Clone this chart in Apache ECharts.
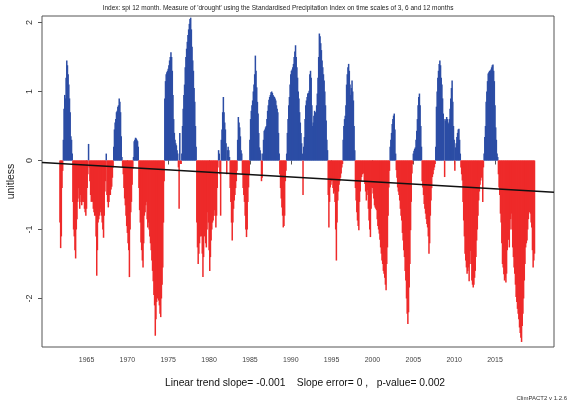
<!DOCTYPE html>
<html><head><meta charset="utf-8">
<script src="https://cdn.jsdelivr.net/npm/echarts@6/dist/echarts.min.js"></script>
<style>html,body{margin:0;padding:0;background:#fff}#c{width:576px;height:400px}</style>
</head><body><div id="c"></div>
<script>
// ---- data (monthly SPI-12, starting Oct 1961) ----
const startYear = 1961, startMonth = 10;
const spi1960s = [
 -0.9,-1.27,-1.1,
 -0.4,-0.15,0.3,0.75,0.95,0.9,1.2,1.45,1.38,1.25,1.1,0.9,
 0.7,0.35,0.3,0.1,-0.6,-1.0,-1.1,-1.3,-1.42,-1.0,-0.85,-0.6,
 -0.4,-0.55,-0.7,-0.5,-0.6,-0.65,-0.6,-0.55,-0.6,-0.7,-0.75,-0.8,
 -0.7,-0.4,-0.2,0.24,-0.1,-0.3,-0.5,-0.6,-0.55,-0.6,-0.7,-0.75,
 -0.8,-0.8,-1.1,-1.67,-1.3,-0.9,-0.85,-0.8,-0.75,-0.7,-0.8,-0.9,
 -1.0,-1.12,-0.8,-0.45,-0.3,0.1,-0.5,-0.6,-0.68,-0.6,-0.5,-0.5,
 -0.42,-0.38,-0.25,-0.1,0.2,0.45,0.55,0.6,0.7,0.72,0.78,0.8,
 0.9,0.85,0.7,0.35,0.05,-0.1,-0.2,-0.4,-0.55,-0.65,-0.8,-0.95
];
const spi1970s = [
 -1.05,-1.2,-1.3,-1.69,-1.0,-0.75,-0.6,-0.35,-0.12,0.05,0.28,0.3,
 0.33,0.32,0.3,0.28,0.2,-0.4,-0.72,-0.9,-1.19,-1.3,-1.45,-1.55,
 -1.2,-0.8,-0.75,-0.65,-0.6,-0.85,-0.97,-0.9,-1.0,-1.1,-1.2,-1.3,
 -1.45,-1.6,-1.75,-1.95,-2.1,-2.54,-2.3,-2.05,-2.0,-1.95,-2.03,-2.1,
 -2.22,-2.27,-2.0,-1.8,-1.55,-0.9,-0.3,0.9,1.15,1.25,1.28,1.3,
 1.33,1.38,1.45,1.5,1.57,1.5,1.3,0.95,0.6,0.4,0.3,0.25,
 0.22,0.15,0.1,-0.1,-0.7,0.4,-0.05,-0.05,0.1,0.5,0.75,0.95,
 1.1,1.35,1.5,1.62,1.72,1.82,1.9,1.98,2.05,2.07,1.9,1.65,
 1.45,1.3,1.05,0.85,0.5,0.2,-0.9,-1.26,-1.5,-1.35,-1.2,-1.1,
 -1.0,-1.1,-1.35,-1.69,-1.4,-1.1,-1.05,-1.2,-1.26,-1.0,-0.75,-0.9
];
const spi1980s = [
 -1.3,-1.6,-1.4,-1.16,-1.0,-0.9,-0.87,-0.8,-0.72,-0.8,-0.97,-0.8,
 -0.4,-0.1,0.15,0.1,-0.2,-0.8,0.3,0.45,0.7,0.92,0.7,0.55,
 0.45,0.25,-0.2,0.15,0.2,0.15,0.05,-0.4,-0.6,-0.9,-1.16,-0.9,
 -0.7,-0.58,-0.5,-0.4,-0.3,-0.15,0.3,0.63,0.55,0.48,0.35,0.15,
 0.1,-0.2,-0.4,-0.5,-0.6,-0.8,-1.0,-1.11,-1.0,-0.6,-0.39,-0.2,
 0.3,0.6,0.72,0.8,0.87,1.0,1.1,1.25,1.52,1.3,1.06,0.85,
 0.68,0.4,0.19,0.15,0.1,-0.3,-0.25,0.1,0.3,0.43,0.45,0.48,
 0.5,0.6,0.72,0.8,0.88,0.92,0.95,0.99,1.0,0.98,0.95,0.93,
 0.92,0.9,0.87,0.8,0.75,0.7,0.4,0.1,-0.2,-0.4,-0.55,-0.68,
 -0.8,-0.97,-0.95,-0.8,-0.3,-0.15,0.1,0.4,0.6,0.8,0.92,1.1
];
const spi1990s = [
 1.25,1.3,1.32,1.35,1.4,1.5,1.58,1.67,1.5,1.35,1.2,1.0,
 0.9,0.7,0.55,0.4,0.25,0.1,-0.5,0.2,0.34,0.6,0.8,0.87,
 0.92,0.97,0.98,1.01,1.25,1.3,1.2,0.8,0.5,0.55,0.65,0.72,
 0.7,0.68,0.8,0.97,1.2,1.5,1.84,1.8,1.7,1.6,1.45,1.35,
 1.25,1.16,1.0,0.8,0.58,0.3,0.15,-0.5,-0.97,-0.6,-0.39,-0.35,
 -0.3,-0.29,-0.4,-0.48,-0.45,-0.6,-1.0,-1.45,-0.9,-0.58,-0.45,-0.35,
 -0.3,-0.25,-0.19,-0.1,-0.05,0.3,0.5,0.6,0.65,0.8,1.1,1.25,
 1.35,1.4,1.3,1.1,0.95,1.05,1.16,1.0,0.87,0.5,0.15,-0.4,
 -0.58,-0.75,-0.87,-0.95,-1.01,-0.6,-0.45,-0.3,-0.24,-0.2,-0.15,-0.19,
 -0.3,-0.34,-0.45,-0.58,-0.5,-0.43,-0.7,-0.87,-1.0,-1.11,-0.7,-0.39
];
const spi2000s = [
 -0.4,-0.48,-0.55,-0.65,-0.68,-0.7,-0.72,-0.85,-0.95,-1.0,-1.06,-1.15,
 -1.26,-1.35,-1.45,-1.5,-1.6,-1.64,-1.7,-1.8,-1.88,-1.5,-1.26,-0.8,
 -0.39,-0.15,0.2,0.3,0.4,0.53,0.6,0.65,0.68,0.45,0.1,-0.14,
 -0.25,-0.39,-0.45,-0.5,-0.58,-0.7,-0.8,-0.87,-1.05,-1.16,-1.3,-1.4,
 -1.6,-1.74,-2.0,-2.22,-2.37,-2.2,-1.84,-1.5,-1.01,-0.6,-0.19,-0.05,
 0.1,0.14,0.17,0.19,0.3,0.43,0.6,0.8,0.92,0.97,0.8,0.5,
 0.2,-0.3,-0.39,-0.5,-0.63,-0.7,-0.77,-0.85,-0.92,-0.97,-1.1,-1.35,
 -1.2,-0.8,-0.58,-0.4,-0.24,-0.2,-0.14,-0.1,-0.05,0.2,0.78,1.0,
 1.2,1.3,1.4,1.45,1.38,1.2,1.1,0.9,0.68,0.6,-0.24,0.58,
 0.6,0.63,0.6,0.55,0.53,0.6,0.75,0.9,1.05,1.16,0.85,0.5
];
const spi2010s = [
 0.3,-0.15,0.19,0.25,0.34,0.4,0.45,0.46,0.3,0.1,-0.1,-0.2,
 -0.29,-0.6,-0.87,-1.1,-1.35,-1.45,-1.55,-1.64,-1.6,-1.55,-1.75,-1.5,
 -1.31,-1.5,-1.74,-1.8,-1.84,-1.8,-1.7,-1.6,-1.4,-1.16,-1.0,-0.8,
 -0.58,-0.45,-0.35,-0.29,-0.25,-0.24,-0.6,-0.1,0.1,0.34,0.5,0.85,
 1.0,1.15,1.26,1.28,1.3,1.3,1.32,1.35,1.38,1.39,1.3,1.15,
 0.8,0.48,0.3,0.1,0.05,-0.2,-0.39,-0.5,-0.77,-0.9,-1.2,-1.5,
 -1.55,-1.65,-1.74,-1.7,-1.77,-1.64,-1.3,-1.11,-1.15,-1.26,-1.0,-0.85,
 -0.77,-1.0,-1.26,-1.4,-1.55,-1.64,-1.8,-1.98,-2.05,-2.15,-2.22,-2.3,
 -2.42,-2.5,-2.57,-2.63,-2.4,-2.22,-2.0,-1.74,-1.5,-1.26,-1.2,-1.16,
 -1.0,-0.85,-0.72,-0.75,-0.77,-0.9,-0.97,-1.3,-1.55,-1.45,-1.35
];
const xTickYears = [1965,1970,1975,1980,1985,1990,1995,2000,2005,2010,2015];
const yTicks = [-2,-1,0,1,2];
const trendValue1960 = -0.033, trendSlopePerYear = -0.00686;
const titleText = "Index: spi 12 month. Measure of 'drought' using the Standardised Precipitation Index on time scales of 3, 6 and 12 months";
const yName = 'unitless';
const footerText = 'Linear trend slope= -0.001    Slope error= 0 ,   p-value= 0.002';
const creditText = 'ClimPACT2 v 1.2.6';

// ---- build ----
const spi = [].concat(spi1960s, spi1970s, spi1980s, spi1990s, spi2000s, spi2010s);
const t0 = startYear + (startMonth - 1) / 12;
const barData = spi.map((v, i) => [t0 + i / 12, v]);
const xMin = 1959.55, xMax = 2022.22;
const trend = y => trendValue1960 + trendSlopePerYear * (y - 1960);
const FONT = '"Liberation Sans", Arial, sans-serif';
const BLUE = '#2C4DA5', RED = '#EE2A2A';

const chart = echarts.init(document.getElementById('c'), null, {renderer: 'canvas'});
chart.setOption({
  animation: false,
  backgroundColor: '#fff',
  grid: {left: 42, right: 22, top: 16, bottom: 53, containLabel: false, outerBoundsMode: 'none',
         show: true, borderColor: '#555', borderWidth: 1, backgroundColor: 'transparent'},
  title: [
    {text: titleText, left: 273, top: 0, textAlign: 'center', textStyle: {fontFamily: FONT, fontSize: 6.5, fontWeight: 'normal', color: '#222'}},
    {text: footerText, left: 300, top: 373, textAlign: 'center', textStyle: {fontFamily: FONT, fontSize: 10.3, fontWeight: 'normal', color: '#111'}},
    {text: creditText, right: 4, top: 390, textStyle: {fontFamily: FONT, fontSize: 6, fontWeight: 'normal', color: '#333'}}
  ],
  xAxis: {
    type: 'value', min: xMin, max: xMax,
    axisLine: {show: false},
    splitLine: {show: false},
    axisTick: {show: true, length: 4, customValues: xTickYears, lineStyle: {color: '#555'}},
    axisLabel: {customValues: xTickYears, formatter: v => String(v), fontFamily: FONT, fontSize: 7, color: '#444', margin: 10}
  },
  yAxis: {
    type: 'value', min: -2.703, max: 2.094,
    name: yName, nameLocation: 'middle', nameGap: 24, nameRotate: 90,
    nameTextStyle: {fontFamily: FONT, fontSize: 10.5, color: '#222'},
    axisLine: {show: false},
    splitLine: {show: false},
    axisTick: {show: true, length: 4, customValues: yTicks, lineStyle: {color: '#555'}},
    axisLabel: {customValues: yTicks, formatter: v => String(v), rotate: 90, fontFamily: FONT, fontSize: 9, color: '#333', margin: 8}
  },
  series: [
    {
      type: 'bar', data: barData, barWidth: 1.5, silent: true,
      itemStyle: {color: p => p.value[1] >= 0 ? BLUE : RED}
    },
    {
      type: 'line', data: [[xMin, trend(xMin)], [xMax, trend(xMax)]],
      symbol: 'none', silent: true, lineStyle: {color: '#111', width: 1.5}
    }
  ]
});
</script></body></html>
